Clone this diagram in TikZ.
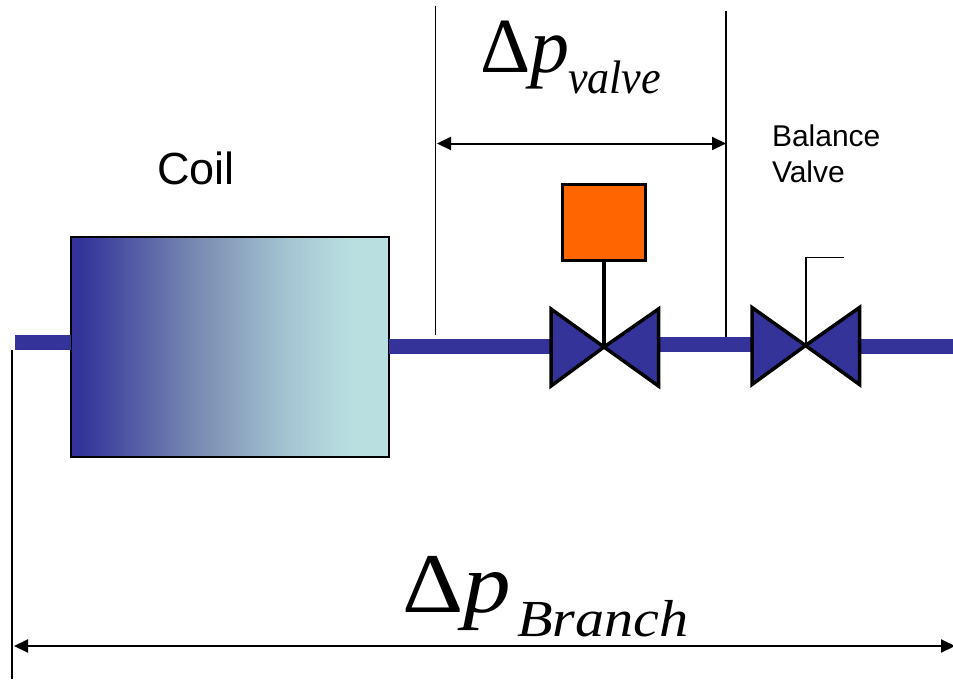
\documentclass[tikz,border=0pt]{standalone}
\usepackage{fontspec}
\setmainfont{Liberation Sans}
\newfontfamily\timesf{Liberation Serif}
\usetikzlibrary{arrows.meta}
\definecolor{pipeblue}{HTML}{333399}
\definecolor{coillight}{HTML}{BADFE0}
\definecolor{coilmida}{HTML}{7B8DB3}
\definecolor{coilmidb}{HTML}{A3C3D1}
\definecolor{actorange}{HTML}{FF6600}
\pgfdeclarehorizontalshading{coilshade}{100bp}{color(0bp)=(pipeblue); color(26.4bp)=(pipeblue); color(45.3bp)=(coilmida); color(58.6bp)=(coilmidb); color(69.2bp)=(coillight); color(100bp)=(coillight)}
\tikzset{
  x=1pt,y=-1pt,
  pipe/.style={draw=pipeblue,line width=15pt},
  valvetri/.style={draw=black,fill=pipeblue,line width=3.5pt,miter limit=10},
  dimline/.style={draw=black,line width=1.8pt},
  dimarrow/.style={draw=black,line width=2pt,{Triangle[length=14pt,width=13pt]}-{Triangle[length=14pt,width=13pt]}},
  lab/.style={inner sep=0pt,outer sep=0pt,anchor=base west},
  every node/.append style={inner sep=0pt,outer sep=0pt}
}
\begin{document}
\begin{tikzpicture}
\useasboundingbox (0,0) rectangle (953,683);
% anchor points
\coordinate (v1c) at (604,347);
\coordinate (v2c) at (805.5,345.5);
\coordinate (inEnd) at (15,342.5);
\coordinate (outEnd) at (953,346.5);
% coil and pipes
\node[draw=black,line width=2pt,shading=coilshade,minimum width=317.5pt,minimum height=219.5pt,anchor=north west] (coil) at (71,237) {};
\coordinate (coilL) at (coil.west |- inEnd);
\coordinate (coilR) at (coil.east |- 0,346.5);
\draw[pipe] (inEnd) -- (coilL);
\draw[pipe] (coilR) -- (552,346.5);
\draw[pipe] (658,344.5) -- (753,344.5);
\draw[pipe] (859,346.5) -- (outEnd);
% motorised valve
\node[draw=black,fill=actorange,line width=3.5pt,minimum width=83pt,minimum height=76pt,anchor=north west] (act) at (562.5,184.5) {};
\draw[line width=3.2pt] (act.south) -- (v1c);
\draw[valvetri] (551,309) -- (v1c) -- (551,386) -- cycle;
\draw[valvetri] (658.5,309) -- (v1c) -- (658.5,386) -- cycle;
% balance valve
\coordinate (handEnd) at (844,257.5);
\coordinate (handTop) at (806,257.5);
\draw[line width=1.8pt,line join=miter] (handEnd) -- (handTop) -- (handTop |- v2c);
\draw[valvetri] (752,307.5) -- (v2c) -- (752,384.5) -- cycle;
\draw[valvetri] (859.5,307.5) -- (v2c) -- (859.5,384.5) -- cycle;
% dimensions
\coordinate (a1) at (435.5,6);
\coordinate (a2) at (435.5,335);
\coordinate (b1) at (726,11);
\coordinate (b2) at (726,337);
\coordinate (c1) at (12,350);
\coordinate (c2) at (12,679);
\draw[dimline] (a1) -- (a2);
\draw[dimline] (b1) -- (b2);
\draw[dimline] (c1) -- (c2);
\coordinate (da) at (437,143.5);
\coordinate (db) at (726,143.5);
\coordinate (dc) at (14,646);
\coordinate (dd) at (955,646);
\draw[dimarrow] (da) -- (db);
\draw[dimarrow] (dc) -- (dd);
% labels
\node[lab,font=\fontsize{45}{45}\selectfont] (coilLab) at (157,184) {Coil};
\node[lab,font=\fontsize{30}{30}\selectfont] (bal1) at (772,146) {Balance};
\node[lab,font=\fontsize{30}{30}\selectfont] (bal2) at (772,182) {Valve};
\node[lab,font=\fontsize{78}{78}\timesf\selectfont] (dpv) at (480,72) {Δ\textit{p}};
\node[lab,font=\fontsize{47}{47}\timesf\itshape\selectfont] (dpvs) at (568,93) {\scalebox{0.94}[1]{valve}};
\node[lab,font=\fontsize{85}{85}\timesf\selectfont] (dpb) at (402,612) {\scalebox{1.12}[1]{Δ\textit{p}}};
\node[lab,font=\fontsize{52}{52}\timesf\itshape\selectfont] (dpbs) at (517,636) {\scalebox{1.12}[1]{Branch}};
\end{tikzpicture}
\end{document}
